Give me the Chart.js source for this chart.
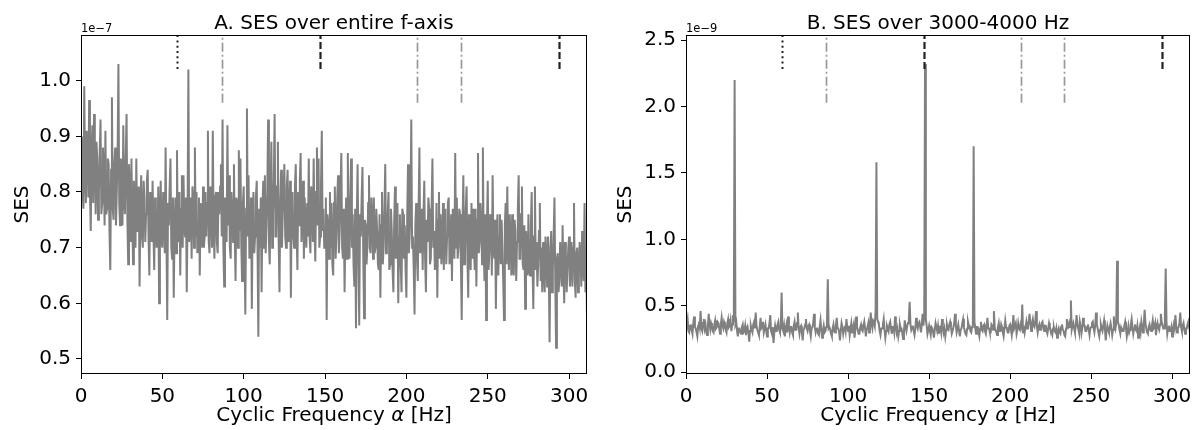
<!DOCTYPE html>
<html>
<head>
<meta charset="utf-8">
<script src="https://cdn.jsdelivr.net/npm/chart.js@4.4.1/dist/chart.umd.min.js"></script>
<style>
  html, body { margin: 0; padding: 0; background: #fff; }
  #wrap { position: relative; width: 1193px; height: 430px; }
  canvas { position: absolute; top: 0; }
</style>
</head>
<body>
<div id="wrap">
  <canvas id="panelA" width="596" height="430" style="left:0px"></canvas>
  <canvas id="panelB" width="597" height="430" style="left:596px"></canvas>
</div>
<script>
// one value per 0.5 Hz bin, starting at 0 Hz
const FREQ_STEP = 0.5;

// A. SES over entire f-axis (x 1e-7)
const sesA = [
  0.85, 0.90, 0.80, 0.77, 0.99, 0.83, 0.78, 0.91, 0.88, 0.79,
  0.965, 0.80, 0.73, 0.88, 0.92, 0.78, 0.94, 0.86, 0.76, 0.89,
  0.86, 0.75, 0.80, 0.87, 0.93, 0.76, 0.78, 0.88, 0.84, 0.74,
  0.91, 0.76, 0.77, 0.86, 0.85, 0.73, 0.66, 0.84, 0.97, 0.77,
  0.75, 0.85, 0.88, 0.74, 0.80, 0.87, 1.03, 0.78, 0.74, 0.86,
  0.82, 0.74, 0.92, 0.79, 0.76, 0.86, 0.94, 0.75, 0.67, 0.85,
  0.80, 0.71, 0.86, 0.75, 0.67, 0.82, 0.78, 0.70, 0.86, 0.73,
  0.74, 0.81, 0.63, 0.77, 0.83, 0.72, 0.70, 0.82, 0.79, 0.71,
  0.76, 0.82, 0.84, 0.72, 0.65, 0.80, 0.77, 0.71, 0.82, 0.73,
  0.66, 0.79, 0.76, 0.70, 0.72, 0.81, 0.60, 0.75, 0.82, 0.71,
  0.70, 0.80, 0.76, 0.69, 0.88, 0.72, 0.57, 0.78, 0.74, 0.81,
  0.86, 0.70, 0.68, 0.79, 0.61, 0.73, 0.79, 0.69, 0.875, 0.71,
  0.72, 0.80, 0.65, 0.77, 0.83, 0.70, 0.83, 0.74, 0.72, 0.79,
  0.62, 0.76, 1.02, 0.71, 0.74, 0.79, 0.68, 0.81, 0.79, 0.70,
  0.88, 0.72, 0.80, 0.69, 0.70, 0.79, 0.65, 0.78, 0.76, 0.70,
  0.81, 0.70, 0.72, 0.80, 0.72, 0.78, 0.91, 0.71, 0.69, 0.81,
  0.78, 0.70, 0.91, 0.74, 0.68, 0.79, 0.80, 0.71, 0.69, 0.80,
  0.76, 0.81, 0.85, 0.72, 0.93, 0.70, 0.63, 0.79, 0.77, 0.71,
  0.92, 0.74, 0.83, 0.70, 0.68, 0.80, 0.77, 0.71, 0.85, 0.72,
  0.64, 0.79, 0.78, 0.70, 0.875, 0.73, 0.86, 0.71, 0.64, 0.78,
  0.81, 0.69, 0.58, 0.77, 0.95, 0.72, 0.83, 0.68, 0.72, 0.79,
  0.59, 0.76, 0.80, 0.69, 0.72, 0.79, 0.82, 0.70, 0.54, 0.77,
  0.70, 0.79, 0.62, 0.77, 0.82, 0.70, 0.83, 0.69, 0.74, 0.80,
  0.93, 0.71, 0.67, 0.80, 0.89, 0.70, 0.76, 0.82, 0.94, 0.72,
  0.72, 0.81, 0.89, 0.71, 0.62, 0.78, 0.84, 0.70, 0.76, 0.80,
  0.85, 0.72, 0.70, 0.81, 0.84, 0.71, 0.75, 0.82, 0.61, 0.79,
  0.80, 0.72, 0.70, 0.81, 0.85, 0.73, 0.66, 0.80, 0.74, 0.82,
  0.87, 0.71, 0.76, 0.82, 0.68, 0.79, 0.73, 0.70, 0.78, 0.72,
  0.86, 0.72, 0.69, 0.81, 0.78, 0.71, 0.86, 0.74, 0.675, 0.80,
  0.88, 0.74, 0.86, 0.70, 0.72, 0.81, 0.91, 0.73, 0.77, 0.70,
  0.70, 0.79, 0.57, 0.76, 0.74, 0.68, 0.80, 0.70, 0.78, 0.67,
  0.65, 0.78, 0.81, 0.68, 0.72, 0.79, 0.83, 0.69, 0.73, 0.80,
  0.87, 0.70, 0.68, 0.77, 0.62, 0.74, 0.79, 0.68, 0.87, 0.71,
  0.68, 0.79, 0.86, 0.70, 0.76, 0.67, 0.63, 0.77, 0.555, 0.75,
  0.85, 0.69, 0.56, 0.76, 0.72, 0.79, 0.845, 0.68, 0.573, 0.75,
  0.74, 0.67, 0.70, 0.78, 0.83, 0.70, 0.69, 0.79, 0.76, 0.68,
  0.79, 0.69, 0.70, 0.77, 0.73, 0.67, 0.66, 0.76, 0.61, 0.74,
  0.80, 0.67, 0.70, 0.77, 0.85, 0.69, 0.70, 0.76, 0.80, 0.66,
  0.67, 0.77, 0.73, 0.66, 0.62, 0.75, 0.81, 0.68, 0.71, 0.78,
  0.60, 0.72, 0.76, 0.67, 0.62, 0.77, 0.76, 0.68, 0.74, 0.66,
  0.61, 0.76, 0.85, 0.69, 0.72, 0.77, 0.93, 0.70, 0.72, 0.66,
  0.58, 0.74, 0.78, 0.68, 0.64, 0.77, 0.88, 0.69, 0.70, 0.77,
  0.66, 0.76, 0.82, 0.68, 0.62, 0.75, 0.71, 0.79, 0.77, 0.67,
  0.68, 0.77, 0.86, 0.70, 0.73, 0.66, 0.68, 0.78, 0.61, 0.75,
  0.80, 0.68, 0.76, 0.67, 0.70, 0.78, 0.66, 0.75, 0.77, 0.67,
  0.72, 0.78, 0.79, 0.67, 0.69, 0.76, 0.64, 0.77, 0.74, 0.68,
  0.87, 0.70, 0.79, 0.68, 0.70, 0.77, 0.76, 0.67, 0.57, 0.74,
  0.83, 0.67, 0.69, 0.77, 0.81, 0.68, 0.61, 0.76, 0.72, 0.66,
  0.78, 0.68, 0.77, 0.70, 0.66, 0.77, 0.63, 0.75, 0.87, 0.69,
  0.71, 0.78, 0.75, 0.67, 0.88, 0.70, 0.64, 0.76, 0.57, 0.74,
  0.82, 0.66, 0.69, 0.76, 0.75, 0.65, 0.83, 0.70, 0.68, 0.75,
  0.59, 0.73, 0.76, 0.65, 0.72, 0.76, 0.67, 0.75, 0.70, 0.64,
  0.57, 0.74, 0.78, 0.67, 0.81, 0.70, 0.66, 0.76, 0.72, 0.65,
  0.76, 0.66, 0.65, 0.75, 0.73, 0.64, 0.71, 0.77, 0.83, 0.68,
  0.68, 0.76, 0.81, 0.67, 0.66, 0.74, 0.59, 0.73, 0.70, 0.65,
  0.76, 0.66, 0.65, 0.74, 0.80, 0.67, 0.59, 0.72, 0.81, 0.66,
  0.71, 0.63, 0.67, 0.73, 0.78, 0.64, 0.70, 0.62, 0.71, 0.66,
  0.62, 0.72, 0.69, 0.63, 0.72, 0.66, 0.53, 0.70, 0.73, 0.62,
  0.66, 0.72, 0.79, 0.64, 0.52, 0.68, 0.69, 0.62, 0.64, 0.71,
  0.71, 0.63, 0.74, 0.66, 0.60, 0.71, 0.69, 0.62, 0.66, 0.70,
  0.72, 0.63, 0.67, 0.71, 0.63, 0.70, 0.78, 0.64, 0.61, 0.69,
  0.70, 0.62, 0.66, 0.71, 0.68, 0.63, 0.73, 0.66, 0.64, 0.78,
  0.62, 0.70, 0.57, 0.62, 0.56
];

// B. SES over 3000-4000 Hz (x 1e-9)
const sesB = [
  0.33, 0.36, 0.40, 0.31, 0.30, 0.35, 0.36, 0.32, 0.29, 0.37,
  0.42, 0.34, 0.33, 0.30, 0.27, 0.35, 0.38, 0.34, 0.46, 0.33,
  0.31, 0.37, 0.40, 0.33, 0.36, 0.30, 0.28, 0.35, 0.44, 0.36,
  0.32, 0.37, 0.35, 0.31, 0.30, 0.36, 0.39, 0.33, 0.34, 0.38,
  0.37, 0.33, 0.29, 0.36, 0.41, 0.35, 0.33, 0.38, 0.36, 0.32,
  0.30, 0.37, 0.40, 0.34, 0.35, 0.39, 0.31, 0.36, 0.43, 0.38,
  2.20, 0.36, 0.38, 0.31, 0.27, 0.33, 0.33, 0.30, 0.29, 0.34,
  0.36, 0.30, 0.31, 0.35, 0.28, 0.32, 0.34, 0.30, 0.23, 0.31,
  0.35, 0.32, 0.30, 0.36, 0.38, 0.33, 0.45, 0.35, 0.32, 0.30,
  0.28, 0.34, 0.41, 0.33, 0.34, 0.38, 0.30, 0.33, 0.36, 0.31,
  0.27, 0.33, 0.33, 0.37, 0.43, 0.31, 0.29, 0.34, 0.22, 0.30,
  0.35, 0.31, 0.31, 0.36, 0.38, 0.32, 0.30, 0.34, 0.60, 0.33,
  0.31, 0.35, 0.27, 0.33, 0.36, 0.30, 0.42, 0.35, 0.30, 0.34,
  0.34, 0.30, 0.28, 0.35, 0.38, 0.32, 0.32, 0.37, 0.45, 0.33,
  0.29, 0.34, 0.35, 0.30, 0.24, 0.32, 0.33, 0.36, 0.40, 0.33,
  0.31, 0.35, 0.36, 0.31, 0.27, 0.33, 0.34, 0.37, 0.44, 0.34,
  0.30, 0.33, 0.33, 0.29, 0.28, 0.34, 0.39, 0.32, 0.26, 0.31,
  0.35, 0.30, 0.31, 0.34, 0.38, 0.70, 0.33, 0.34, 0.32, 0.29,
  0.27, 0.33, 0.36, 0.31, 0.30, 0.35, 0.41, 0.33, 0.33, 0.30,
  0.24, 0.31, 0.37, 0.34, 0.29, 0.33, 0.35, 0.31, 0.40, 0.34,
  0.31, 0.35, 0.28, 0.33, 0.37, 0.30, 0.33, 0.36, 0.26, 0.32,
  0.42, 0.34, 0.32, 0.29, 0.29, 0.34, 0.36, 0.32, 0.31, 0.35,
  0.38, 0.33, 0.27, 0.32, 0.34, 0.37, 0.30, 0.35, 0.45, 0.36,
  0.33, 0.39, 0.38, 0.35, 0.47, 1.58, 0.40, 0.38, 0.36, 0.31,
  0.28, 0.33, 0.33, 0.36, 0.40, 0.32, 0.26, 0.31, 0.35, 0.33,
  0.31, 0.36, 0.38, 0.33, 0.29, 0.34, 0.34, 0.30, 0.42, 0.35,
  0.30, 0.33, 0.27, 0.31, 0.36, 0.33, 0.33, 0.29, 0.25, 0.31,
  0.39, 0.34, 0.31, 0.35, 0.37, 0.40, 0.53, 0.36, 0.32, 0.34,
  0.35, 0.31, 0.28, 0.33, 0.41, 0.35, 0.33, 0.37, 0.38, 0.34,
  0.30, 0.36, 0.44, 0.35, 0.42, 2.32, 0.40, 0.35, 0.29, 0.32,
  0.35, 0.31, 0.28, 0.34, 0.33, 0.30, 0.26, 0.32, 0.37, 0.34,
  0.31, 0.35, 0.29, 0.33, 0.34, 0.30, 0.40, 0.35, 0.30, 0.33,
  0.27, 0.32, 0.36, 0.33, 0.32, 0.36, 0.38, 0.34, 0.29, 0.31,
  0.34, 0.37, 0.44, 0.35, 0.30, 0.33, 0.36, 0.31, 0.27, 0.32,
  0.33, 0.37, 0.40, 0.34, 0.31, 0.29, 0.28, 0.33, 0.38, 0.35,
  0.35, 0.31, 0.30, 0.34, 0.36, 1.70, 0.38, 0.33, 0.29, 0.34,
  0.34, 0.30, 0.27, 0.33, 0.38, 0.32, 0.31, 0.35, 0.36, 0.31,
  0.29, 0.34, 0.41, 0.33, 0.33, 0.30, 0.30, 0.36, 0.35, 0.32,
  0.46, 0.34, 0.32, 0.30, 0.28, 0.34, 0.37, 0.31, 0.31, 0.36,
  0.34, 0.30, 0.27, 0.33, 0.39, 0.34, 0.33, 0.30, 0.30, 0.35,
  0.36, 0.32, 0.28, 0.34, 0.43, 0.33, 0.33, 0.37, 0.29, 0.32,
  0.37, 0.33, 0.32, 0.36, 0.34, 0.51, 0.30, 0.35, 0.30, 0.34,
  0.38, 0.33, 0.35, 0.39, 0.44, 0.36, 0.31, 0.37, 0.40, 0.35,
  0.34, 0.38, 0.46, 0.35, 0.30, 0.34, 0.36, 0.32, 0.33, 0.37,
  0.38, 0.33, 0.31, 0.35, 0.35, 0.31, 0.29, 0.33, 0.37, 0.34,
  0.32, 0.30, 0.28, 0.33, 0.34, 0.31, 0.30, 0.33, 0.26, 0.31,
  0.33, 0.30, 0.29, 0.34, 0.36, 0.32, 0.31, 0.28, 0.27, 0.33,
  0.40, 0.35, 0.34, 0.37, 0.34, 0.54, 0.32, 0.35, 0.37, 0.33,
  0.30, 0.35, 0.43, 0.36, 0.33, 0.30, 0.38, 0.34, 0.29, 0.33,
  0.41, 0.35, 0.35, 0.31, 0.31, 0.34, 0.36, 0.32, 0.28, 0.33,
  0.34, 0.37, 0.38, 0.33, 0.30, 0.35, 0.45, 0.36, 0.33, 0.30,
  0.27, 0.32, 0.36, 0.33, 0.31, 0.35, 0.39, 0.33, 0.24, 0.31,
  0.35, 0.32, 0.30, 0.34, 0.37, 0.33, 0.28, 0.32, 0.42, 0.36,
  0.33, 0.37, 0.84, 0.38, 0.36, 0.32, 0.29, 0.34, 0.34, 0.31,
  0.31, 0.35, 0.38, 0.33, 0.27, 0.31, 0.35, 0.30, 0.32, 0.36,
  0.40, 0.34, 0.29, 0.33, 0.36, 0.32, 0.31, 0.35, 0.26, 0.31,
  0.34, 0.30, 0.38, 0.34, 0.30, 0.36, 0.47, 0.37, 0.33, 0.30,
  0.29, 0.34, 0.36, 0.32, 0.31, 0.35, 0.39, 0.33, 0.34, 0.37,
  0.28, 0.33, 0.37, 0.34, 0.32, 0.36, 0.44, 0.38, 0.36, 0.33,
  0.33, 0.42, 0.78, 0.38, 0.29, 0.33, 0.35, 0.31, 0.31, 0.34,
  0.27, 0.32, 0.36, 0.33, 0.43, 0.35, 0.30, 0.33, 0.34, 0.37,
  0.45, 0.34, 0.31, 0.35, 0.37, 0.32, 0.29, 0.33, 0.33, 0.36,
  0.38, 0.34, 0.30, 0.33, 0.32
];

const xTicks = [0, 50, 100, 150, 200, 250, 300];
const yTicksA = [0.5, 0.6, 0.7, 0.8, 0.9, 1.0];
const yTicksB = [0.0, 0.5, 1.0, 1.5, 2.0, 2.5];

// marker frequencies (Hz)
const dottedMarks = [59];
const dashDotMarks = [86.6, 206.8, 233.4];
const dashedMarks = [147, 294];

const FONT = '"DejaVu Sans", sans-serif';

const decor = {
  id: 'decor',
  afterDatasetsDraw(chart, args, opts) {
    const { ctx, chartArea: a, scales: { x } } = chart;
    const h = a.bottom - a.top;
    ctx.save();

    const marks = (list, color, width, dash, frac) => {
      ctx.strokeStyle = color;
      ctx.lineWidth = width;
      ctx.setLineDash(dash);
      list.forEach(f => {
        const px = Math.round(x.getPixelForValue(f)) + 0.5;
        ctx.beginPath();
        ctx.moveTo(px, a.top + h * frac);
        ctx.lineTo(px, a.top);
        ctx.stroke();
      });
    };
    marks(dottedMarks, '#222', 2, [2, 3.3], 0.1);
    marks(dashDotMarks, '#999', 1.7, [9, 3, 2, 3], 0.2);
    marks(dashedMarks, '#222', 2.2, [7, 3], 0.1);
    ctx.setLineDash([]);

    // axes frame
    ctx.strokeStyle = '#000';
    ctx.lineWidth = 1;
    ctx.strokeRect(a.left + 0.5, a.top + 0.5, a.right - a.left - 1, h - 1);

    ctx.fillStyle = '#000';
    ctx.textBaseline = 'alphabetic';
    const cx = (a.left + a.right) / 2;

    ctx.font = '20px ' + FONT;
    ctx.textAlign = 'center';
    ctx.fillText(opts.title, cx, 28.5);

    // x label with italic alpha
    const p1 = 'Cyclic Frequency ', p2 = '\u03b1', p3 = ' [Hz]';
    ctx.font = '20px ' + FONT;
    const w1 = ctx.measureText(p1).width, w3 = ctx.measureText(p3).width;
    ctx.font = 'italic 20px ' + FONT;
    const w2 = ctx.measureText(p2).width;
    const lx = cx - (w1 + w2 + w3) / 2;
    ctx.textAlign = 'left';
    ctx.font = '20px ' + FONT;
    ctx.fillText(p1, lx, 420.5);
    ctx.font = 'italic 20px ' + FONT;
    ctx.fillText(p2, lx + w1, 420.5);
    ctx.font = '20px ' + FONT;
    ctx.fillText(p3, lx + w1 + w2, 420.5);

    // offset text
    ctx.font = '11.5px ' + FONT;
    ctx.fillText(opts.offset, a.left, 31.5);
    ctx.restore();
  }
};

function makePanel(id, values, title, offset, yTicks, yMin, yMax, yWidth, yTitlePad, rightPad) {
  const points = values.map((v, i) => ({ x: i * FREQ_STEP, y: v }));
  return new Chart(document.getElementById(id), {
    type: 'line',
    data: {
      datasets: [{
        data: points,
        borderColor: '#808080',
        borderWidth: 2,
        pointRadius: 0,
        tension: 0,
        fill: false
      }]
    },
    options: {
      responsive: false,
      animation: false,
      devicePixelRatio: 1,
      layout: { padding: { top: 35, left: 0, right: rightPad, bottom: 0 } },
      plugins: {
        legend: { display: false },
        tooltip: { enabled: false },
        decor: { title: title, offset: offset }
      },
      scales: {
        x: {
          type: 'linear',
          min: 0,
          max: 311,
          afterBuildTicks: s => { s.ticks = xTicks.map(v => ({ value: v })); },
          afterFit: s => { s.height = 56; s.paddingLeft = 0; s.paddingRight = 0; },
          grid: { display: true, drawOnChartArea: false, drawTicks: true, tickLength: 5, color: '#000' },
          border: { display: false },
          ticks: { color: '#000', padding: 6, maxRotation: 0, font: { family: FONT, size: 20 }, callback: v => String(v) }
        },
        y: {
          type: 'linear',
          min: yMin,
          max: yMax,
          afterBuildTicks: s => { s.ticks = yTicks.map(v => ({ value: v })); },
          afterFit: s => { s.width = yWidth; s.paddingTop = 0; s.paddingBottom = 0; },
          grid: { display: true, drawOnChartArea: false, drawTicks: true, tickLength: 5, color: '#000' },
          border: { display: false },
          ticks: { color: '#000', padding: 5, font: { family: FONT, size: 20 }, callback: v => v.toFixed(1) },
          title: { display: true, text: 'SES', color: '#000', font: { family: FONT, size: 20 }, padding: { top: yTitlePad, bottom: 0 } }
        }
      }
    },
    plugins: [decor]
  });
}

makePanel('panelA', sesA, 'A. SES over entire f-axis', '1e\u22127', yTicksA, 0.473, 1.082, 81, 10.5, 9);
makePanel('panelB', sesB, 'B. SES over 3000-4000 Hz', '1e\u22129', yTicksB, -0.013, 2.538, 90, 18, 3);
</script>
</body>
</html>
